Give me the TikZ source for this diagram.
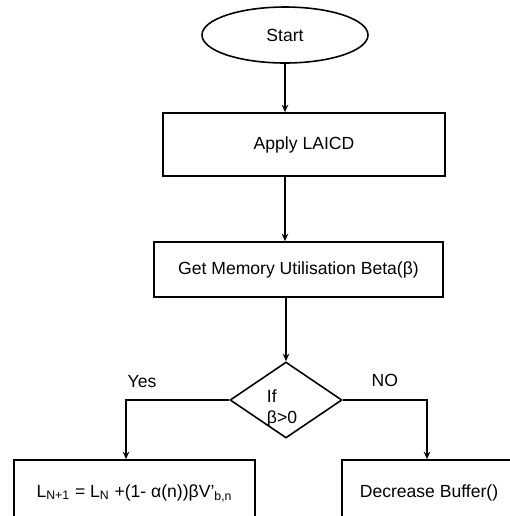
\documentclass[tikz,border=0pt]{standalone}
\usepackage{fontspec}
\setmainfont{Liberation Sans}
\usetikzlibrary{positioning,arrows.meta,shapes.geometric}

\begin{document}
\begin{tikzpicture}[>={Stealth[length=1.5mm,width=1.3mm]},line width=0.9pt,
  font=\fontsize{10}{12}\selectfont,
  blk/.style={draw,rectangle,inner sep=0pt},
  term/.style={draw,ellipse,inner sep=0pt},
  decide/.style={draw,diamond,inner sep=0pt}]
\useasboundingbox (0,0) rectangle (10.2,-10.32);
\node[term,minimum width=3.32cm,minimum height=1.12cm] (start) at (5.70,-0.70) {Start};
\node[blk,minimum width=5.64cm,minimum height=1.26cm] (apply) at (6.08,-2.89) {Apply LAICD};
\node[blk,minimum width=5.78cm,minimum height=1.10cm] (memory) at (5.97,-5.39) {Get Memory Utilisation Beta(β)};
\node[decide,minimum width=2.24cm,minimum height=1.52cm] (cond) at (5.72,-8.0) {};
\node[align=left,inner sep=0pt] (condtext) at ([xshift=-0.08cm,yshift=-0.17cm]cond.center) {If\\β>0};
\node[blk,minimum width=4.82cm,minimum height=1.32cm] (eqn) at (2.69,-9.86)
  {L\textsubscript{N+1} = L\textsubscript{N} +(1- α(n))βV'\textsubscript{b,n}};
\node[blk,minimum width=3.48cm,minimum height=1.32cm] (buffer) at (8.58,-9.86) {Decrease Buffer()};
\coordinate (ydrop) at (2.52,-9.0);
\coordinate (ndrop) at (8.54,-9.0);
\draw[->] (start.south) -- (start.south |- apply.north);
\draw[->] (apply.south -| start) -- (start |- memory.north);
\draw[->] (memory.south -| cond) -- (cond.north);
\draw[->] (cond.west) -| (ydrop |- eqn.north)
  node[pos=0.5,anchor=south west,xshift=-0.1cm,yshift=0.12cm] {Yes};
\draw[->] (cond.east) -| (ndrop |- buffer.north)
  node[pos=0.25,above=0.14cm] {NO};
\end{tikzpicture}
\end{document}
